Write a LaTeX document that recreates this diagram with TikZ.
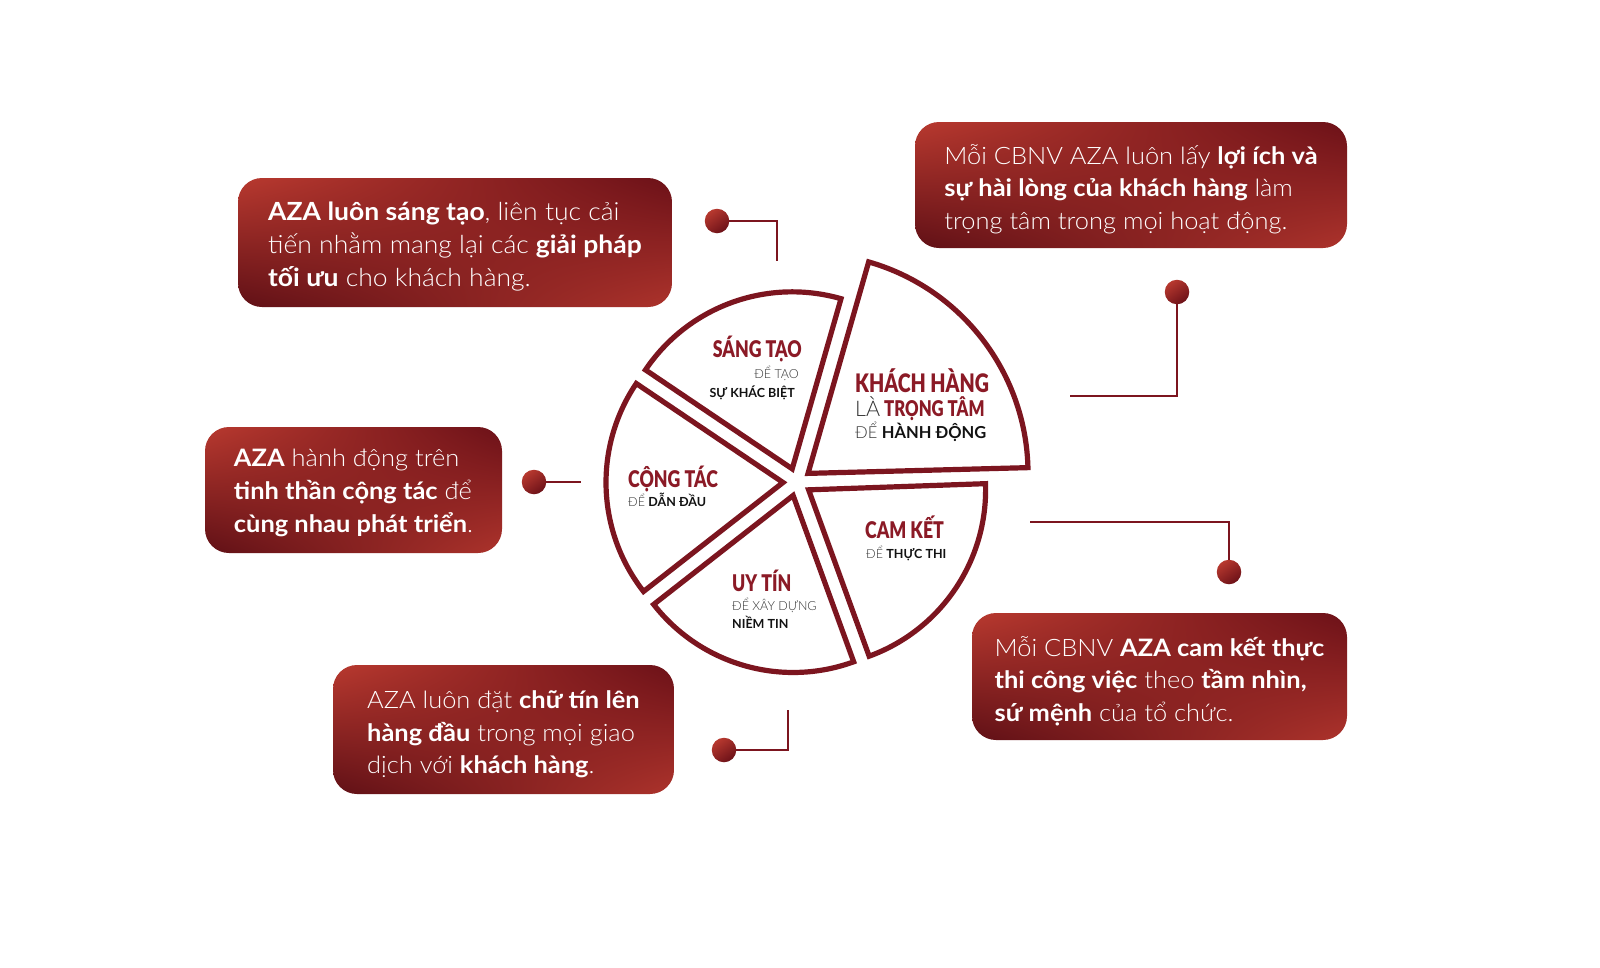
\documentclass[tikz,border=0pt]{standalone}
\usepackage{fontspec}
\setmainfont{Lato}[UprightFont={* Light}, BoldFont={* Bold}]
\newfontfamily\bodyfont{Lato}[UprightFont={* Light}, BoldFont={* Bold}, FakeStretch=1.06]
\newfontfamily\titlefont{Lato}[UprightFont={* Black}, FakeStretch=0.77]
\usepackage{xcolor}
\definecolor{AzaRed}{RGB}{139,26,38}
\definecolor{AzaDark}{RGB}{108,17,24}
\definecolor{AzaDeep}{RGB}{96,16,22}
\definecolor{AzaLight}{RGB}{184,57,47}
\definecolor{PieRim}{RGB}{124,21,31}
\definecolor{InkGray}{RGB}{50,50,50}
\definecolor{InkBlack}{RGB}{18,18,18}
\usetikzlibrary{
    positioning,
    calc,
    shadings
}

\begin{document}
\begin{tikzpicture}[
    x=1pt,
    y=-1pt,
    rim/.style={
        draw=PieRim,
        fill=white,
        line width=5.2pt,
        line join=miter
    },
    descbox/.style={
        rounded corners=24pt,
        upper left=AzaLight,
        upper right=AzaDark,
        lower left=AzaDeep,
        lower right=AzaLight!85!AzaDark,
        inner sep=0pt
    },
    desctext/.style={
        text=white,
        align=left,
        inner sep=0pt,
        font=\bodyfont\fontsize{24}{32.7}\selectfont
    },
    knob/.style={
        circle,
        inner sep=0pt,
        minimum size=24.5pt,
        top color=AzaLight,
        bottom color=AzaDark,
        shading angle=35
    },
    link/.style={
        draw=PieRim,
        line width=2.2pt
    },
    headline/.style={
        text=AzaRed,
        inner sep=0pt,
        font=\titlefont\fontsize{23}{23}\selectfont
    },
    subline/.style={
        text=InkGray,
        inner sep=0pt,
        font=\fontsize{12.5}{12.5}\selectfont
    }
]
%
    \useasboundingbox[fill=white] (0,0) rectangle (1600,967);
%
    % Pie of five values
%
    \coordinate (ctr) at (797,482);
%
    \draw[rim] (ctr) ++(-38:14) coordinate (kh-tip)
        -- ++(-1.5:220) arc[start angle=-1.5, end angle=-74, radius=220] -- cycle;
    \draw[rim] (ctr) ++(-110:14) coordinate (st-tip)
        -- ++(-74:177) arc[start angle=-74, end angle=-146, radius=177] -- cycle;
    \draw[rim] (ctr) ++(-182:14) coordinate (ct-tip)
        -- ++(-146:177) arc[start angle=-146, end angle=-218, radius=177] -- cycle;
    \draw[rim] (ctr) ++(-254:14) coordinate (ut-tip)
        -- ++(-218:177) arc[start angle=-218, end angle=-290, radius=177] -- cycle;
    \draw[rim] (ctr) ++(-326:14) coordinate (ck-tip)
        -- ++(-290:177) arc[start angle=-290, end angle=-362, radius=177] -- cycle;
%
    % Labels inside the slices
%
    \node[headline, anchor=base east] (st-title) at (802,357) {SÁNG TẠO};
    \node[subline, anchor=base east] (st-sub) at (799,378.5) {ĐỂ TẠO};
    \node[subline, anchor=base east, text=InkBlack] (st-note) at (795,397) {\textbf{SỰ KHÁC BIỆT}};
%
    \node[headline, anchor=base west, font=\titlefont\fontsize{25.5}{25.5}\selectfont]
        (kh-title) at (855,392) {KHÁCH HÀNG};
    \node[anchor=base west, inner sep=0pt] (kh-mid) at (855,416) {%
        {\fontsize{21.5}{21.5}\selectfont\color{InkGray}LÀ}\hspace{4pt}%
        {\titlefont\fontsize{21.7}{21.7}\selectfont\color{AzaRed}TRỌNG TÂM}};
    \node[subline, anchor=base west, font=\fontsize{16.5}{16.5}\selectfont]
        (kh-sub) at (855,438.5) {ĐỂ \textbf{\color{InkBlack}HÀNH ĐỘNG}};
%
    \node[headline, anchor=base west] (ct-title) at (628,487.3) {CỘNG TÁC};
    \node[subline, anchor=base west] (ct-sub) at (628,506) {ĐỂ \textbf{\color{InkBlack}DẪN ĐẦU}};
%
    \node[headline, anchor=base west] (ck-title) at (865,538.3) {CAM KẾT};
    \node[subline, anchor=base west] (ck-sub) at (866,558.3) {ĐỂ \textbf{\color{InkBlack}THỰC THI}};
%
    \node[headline, anchor=base west] (ut-title) at (732,591.7) {UY TÍN};
    \node[subline, anchor=base west] (ut-sub) at (732,610) {ĐỂ XÂY DỰNG};
    \node[subline, anchor=base west, text=InkBlack] (ut-note) at (732,628.3) {\textbf{NIỀM TIN}};
%
    % Description boxes
%
    \node[descbox, minimum width=434pt, minimum height=129pt] (d-sang) at (455,242.5) {};
    \node[desctext, font=\bodyfont\fontsize{25}{32.7}\selectfont]
        (t-sang) at ([yshift=-4pt]d-sang.center) {
        \textbf{AZA luôn sáng tạo}, liên tục cải\\
        tiến nhằm mang lại các \textbf{giải pháp}\\
        \textbf{tối ưu} cho khách hàng.
    };
%
    \node[descbox, minimum width=432pt, minimum height=126pt] (d-khach) at (1131,185) {};
    \node[desctext] (t-khach) at ([yshift=-4pt]d-khach.center) {
        Mỗi CBNV AZA luôn lấy \textbf{lợi ích và}\\
        \textbf{sự hài lòng của khách hàng} làm\\
        trọng tâm trong mọi hoạt động.
    };
%
    \node[descbox, minimum width=297pt, minimum height=126pt] (d-cong) at (353.5,490) {};
    \node[desctext] (t-cong) at ([yshift=-3pt]d-cong.center) {
        \textbf{AZA} hành động trên\\
        \textbf{tinh thần cộng tác} để\\
        \textbf{cùng nhau phát triển}.
    };
%
    \node[descbox, minimum width=341pt, minimum height=129pt] (d-uy) at (503.5,729.5) {};
    \node[desctext] (t-uy) at ([yshift=-5pt]d-uy.center) {
        AZA luôn đặt \textbf{chữ tín lên}\\
        \textbf{hàng đầu} trong mọi giao\\
        dịch với \textbf{khách hàng}.
    };
%
    \node[descbox, minimum width=375pt, minimum height=127pt] (d-cam) at (1159.5,676.5) {};
    \node[desctext] (t-cam) at ([yshift=-4.5pt]d-cam.center) {
        Mỗi CBNV \textbf{AZA cam kết thực}\\
        \textbf{thi công việc} theo \textbf{tầm nhìn,}\\
        \textbf{sứ mệnh} của tổ chức.
    };
%
    % Connectors with knobs
%
    \node[knob] (k-sang) at (717,221) {};
    \node[knob] (k-khach) at (1177,292) {};
    \node[knob] (k-cong) at (534,482) {};
    \node[knob] (k-uy) at (724,750) {};
    \node[knob] (k-cam) at (1229,572) {};
%
    \coordinate (p-sang) at (777,261);
    \coordinate (p-khach) at (1070,396);
    \coordinate (p-cong) at (581,482);
    \coordinate (p-uy) at (788,710);
    \coordinate (p-cam) at (1030,522);
%
    \draw[link] (k-sang) -| (p-sang);
    \draw[link] (k-khach) |- (p-khach);
    \draw[link] (k-cong) -- (p-cong);
    \draw[link] (k-uy) -| (p-uy);
    \draw[link] (k-cam) |- (p-cam);
%
\end{tikzpicture}
\end{document}
